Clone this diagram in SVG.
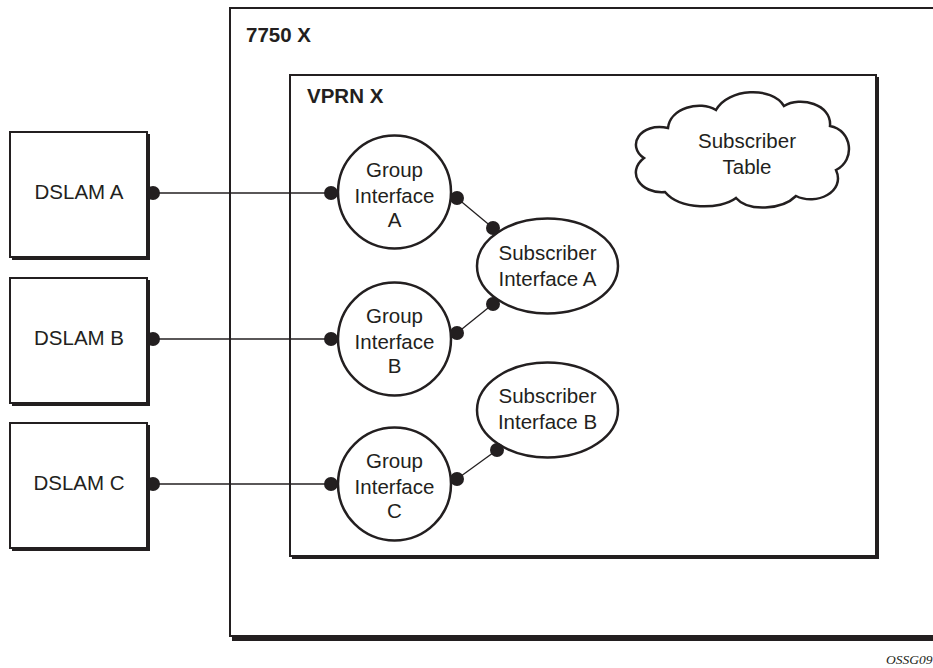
<svg xmlns="http://www.w3.org/2000/svg" width="933" height="668" viewBox="0 0 933 668">
<style>
.box{fill:#fff;stroke:#231f20;stroke-width:2}
.sh{fill:#231f20}
.nd{fill:#fff;stroke:#231f20;stroke-width:2.5}
.t{font-family:"Liberation Sans",Arial,sans-serif;font-size:20.5px;fill:#231f20;text-anchor:middle}
.b{font-family:"Liberation Sans",Arial,sans-serif;font-size:20.5px;font-weight:bold;fill:#231f20}
.ln{stroke:#231f20;stroke-width:1.3;fill:none}
.dot{fill:#231f20}
</style>
<rect width="933" height="668" fill="#fff"/>
<g id="box7750">
<rect class="sh" x="232" y="10" width="720" height="631"/>
<rect class="box" x="230" y="8" width="720" height="628"/>
<text class="b" x="246" y="42">7750 X</text>
</g>
<g id="vprn">
<rect class="sh" x="292" y="77" width="587" height="482"/>
<rect class="box" x="290" y="75" width="586" height="481"/>
<text class="b" x="307" y="103">VPRN X</text>
</g>
<g id="dslamA">
<rect class="sh" x="12" y="134" width="138" height="126"/>
<rect class="box" x="10" y="132" width="137" height="125"/>
<text class="t" x="79" y="199">DSLAM A</text>
</g>
<g id="dslamB">
<rect class="sh" x="12" y="280" width="138" height="126"/>
<rect class="box" x="10" y="278" width="137" height="125"/>
<text class="t" x="79" y="345">DSLAM B</text>
</g>
<g id="dslamC">
<rect class="sh" x="12" y="425" width="138" height="126"/>
<rect class="box" x="10" y="423" width="137" height="125"/>
<text class="t" x="79" y="490">DSLAM C</text>
</g>
<g id="connectors">
<line class="ln" x1="153" y1="193" x2="331" y2="193"/>
<line class="ln" x1="153" y1="339" x2="331" y2="339"/>
<line class="ln" x1="153" y1="484" x2="331" y2="484"/>
<line class="ln" x1="457" y1="198" x2="493" y2="228"/>
<line class="ln" x1="457" y1="333" x2="493" y2="304"/>
<line class="ln" x1="457" y1="479" x2="497" y2="450"/>
</g>
<g id="groupA">
<circle class="nd" cx="394.5" cy="192" r="56.5"/>
<text class="t" x="394.5" y="177">Group</text>
<text class="t" x="394.5" y="202.5">Interface</text>
<text class="t" x="394.5" y="227">A</text>
</g>
<g id="groupB">
<circle class="nd" cx="394.5" cy="339" r="56.5"/>
<text class="t" x="394.5" y="323">Group</text>
<text class="t" x="394.5" y="348.5">Interface</text>
<text class="t" x="394.5" y="373">B</text>
</g>
<g id="groupC">
<circle class="nd" cx="394.5" cy="484" r="56.5"/>
<text class="t" x="394.5" y="468">Group</text>
<text class="t" x="394.5" y="493.5">Interface</text>
<text class="t" x="394.5" y="518">C</text>
</g>
<g id="subA">
<ellipse class="nd" cx="547.5" cy="266" rx="70.5" ry="47.5"/>
<text class="t" x="547.5" y="260">Subscriber</text>
<text class="t" x="547.5" y="286">Interface A</text>
</g>
<g id="subB">
<ellipse class="nd" cx="547.5" cy="410" rx="70.5" ry="47.5"/>
<text class="t" x="547.5" y="403">Subscriber</text>
<text class="t" x="547.5" y="429">Interface B</text>
</g>
<g id="cloud">
<path class="nd" d="M665,192 C640,194 626,172 644,158 C626,146 640,122 668,128 C670,108 700,100 716,110 C728,88 772,86 784,106 C800,96 832,104 830,126 C852,130 856,160 836,170 C846,192 816,206 796,196 C782,210 748,212 736,198 C720,210 680,210 665,192 Z"/>
<text class="t" x="747" y="148">Subscriber</text>
<text class="t" x="747" y="174">Table</text>
</g>
<g id="dots">
<circle class="dot" cx="153" cy="193" r="7"/>
<circle class="dot" cx="153" cy="339" r="7"/>
<circle class="dot" cx="153" cy="484" r="7"/>
<circle class="dot" cx="331" cy="193" r="7"/>
<circle class="dot" cx="331" cy="339" r="7"/>
<circle class="dot" cx="331" cy="484" r="7"/>
<circle class="dot" cx="457" cy="198" r="7"/>
<circle class="dot" cx="493" cy="228" r="7"/>
<circle class="dot" cx="457" cy="333" r="7"/>
<circle class="dot" cx="493" cy="304" r="7"/>
<circle class="dot" cx="457" cy="479" r="7"/>
<circle class="dot" cx="497" cy="450" r="7"/>
</g>
<text x="886" y="664" style="font-family:'Liberation Serif',serif;font-style:italic;font-size:13.5px;fill:#231f20">OSSG09</text>
</svg>
